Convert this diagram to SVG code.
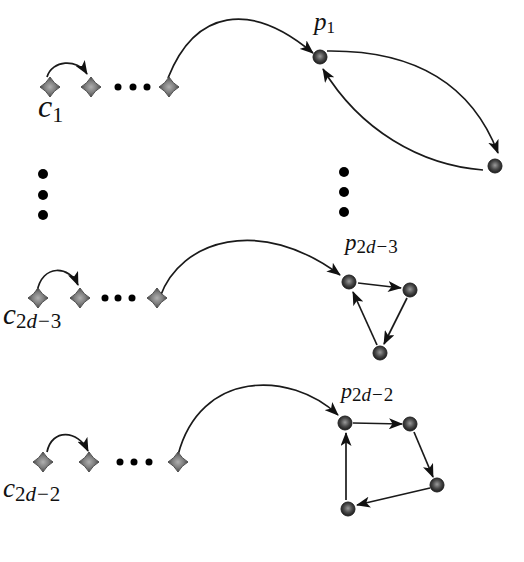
<svg xmlns="http://www.w3.org/2000/svg" width="524" height="562" viewBox="0 0 524 562">
<defs>
<radialGradient id="gd" cx="50%" cy="50%" r="50%">
<stop offset="0" stop-color="#b0b0b0"/>
<stop offset="0.6" stop-color="#7a7a7a"/>
<stop offset="1" stop-color="#404040"/>
</radialGradient>
<radialGradient id="gn" cx="50%" cy="45%" r="55%">
<stop offset="0" stop-color="#9a9a9a"/>
<stop offset="0.55" stop-color="#4a4a4a"/>
<stop offset="1" stop-color="#1a1a1a"/>
</radialGradient>
<path id="dia" d="M0,-10 Q3.6,-3.6 10,0 Q3.6,3.6 0,10 Q-3.6,3.6 -10,0 Q-3.6,-3.6 0,-10 Z"/>
<marker id="ah" viewBox="0 0 14 11" refX="13" refY="5.5" markerWidth="14" markerHeight="11" markerUnits="userSpaceOnUse" orient="auto">
<path d="M0,0 L14,5.5 L0,11 L3.5,5.5 Z" fill="#111"/>
</marker>
</defs>
<style>
.d{fill:url(#gd);stroke:#4a4a4a;stroke-width:1}
.n{fill:url(#gn);stroke:#222;stroke-width:1}
.e{fill:none;stroke:#1a1a1a;stroke-width:1.7;marker-end:url(#ah)}
.dot{fill:#000}
.t{font-family:"Liberation Serif",serif;fill:#111}
.i{font-style:italic}
</style>
<g id="connectors">
<path class="e" d="M47,77 C52,60 77,58 87,74"/>
<path class="e" d="M168,78 C195,10 250,0 313,53"/>
<path class="e" d="M327,51 C410,50 470,80 498,153"/>
<path class="e" d="M483,170 C420,165 360,130 323,69"/>
<path class="e" d="M37,292 C42,263 70,266 78,285"/>
<path class="e" d="M160,297 C180,240 260,215 340,275"/>
<path class="e" d="M358,283 L401,288"/>
<path class="e" d="M407,298 L384,344"/>
<path class="e" d="M377,345 L353,292"/>
<path class="e" d="M47,452 C52,428 78,430 88,451"/>
<path class="e" d="M178,455 C200,370 290,370 338,415"/>
<path class="e" d="M353,423 L402,424"/>
<path class="e" d="M414,432 L433,477"/>
<path class="e" d="M430,488 L357,505"/>
<path class="e" d="M346,500 L346,433"/>
</g>
<g id="chain1">
<use href="#dia" class="d" x="50" y="87"/>
<use href="#dia" class="d" x="91" y="87"/>
<circle class="dot" cx="118" cy="87" r="3.5"/>
<circle class="dot" cx="133" cy="87" r="3.5"/>
<circle class="dot" cx="147" cy="87" r="3.5"/>
<use href="#dia" class="d" x="169" y="87"/>
<text class="t" x="38" y="117"><tspan class="i" font-size="32">c</tspan><tspan font-size="22" dy="5">1</tspan></text>
</g>
<g id="cycle1">
<circle id="p1" class="n" cx="320" cy="57" r="7"/>
<circle class="n" cx="495" cy="166" r="7"/>
<text class="t" x="314" y="30"><tspan class="i" font-size="25">p</tspan><tspan font-size="17" dy="3">1</tspan></text>
</g>
<g id="vdots">
<circle class="dot" cx="43" cy="174" r="5"/>
<circle class="dot" cx="43" cy="195" r="5"/>
<circle class="dot" cx="43" cy="215" r="5"/>
<circle class="dot" cx="344" cy="172" r="5"/>
<circle class="dot" cx="344" cy="192" r="5"/>
<circle class="dot" cx="344" cy="212" r="5"/>
</g>
<g id="chain2">
<use href="#dia" class="d" x="38" y="298"/>
<use href="#dia" class="d" x="80" y="298"/>
<circle class="dot" cx="105" cy="298" r="3.5"/>
<circle class="dot" cx="118" cy="298" r="3.5"/>
<circle class="dot" cx="132" cy="298" r="3.5"/>
<use href="#dia" class="d" x="157" y="298"/>
<text class="t" x="3" y="324"><tspan class="i" font-size="29">c</tspan><tspan font-size="21" dy="4">2</tspan><tspan font-size="21" class="i">d</tspan><tspan font-size="21" dx="1">−</tspan><tspan font-size="21" dx="1">3</tspan></text>
</g>
<g id="cycle2">
<circle class="n" cx="349" cy="282" r="7"/>
<circle class="n" cx="410" cy="290" r="7"/>
<circle class="n" cx="380" cy="353" r="7"/>
<text class="t" x="345" y="250"><tspan class="i" font-size="23">p</tspan><tspan font-size="19" dy="3">2</tspan><tspan font-size="19" class="i">d</tspan><tspan font-size="19" dx="1">−</tspan><tspan font-size="19" dx="1">3</tspan></text>
</g>
<g id="chain3">
<use href="#dia" class="d" x="43" y="462"/>
<use href="#dia" class="d" x="89" y="462"/>
<circle class="dot" cx="120" cy="462" r="3.5"/>
<circle class="dot" cx="134" cy="462" r="3.5"/>
<circle class="dot" cx="149" cy="462" r="3.5"/>
<use href="#dia" class="d" x="178" y="462"/>
<text class="t" x="3" y="497"><tspan class="i" font-size="27">c</tspan><tspan font-size="21" dy="4">2</tspan><tspan font-size="21" class="i">d</tspan><tspan font-size="21" dx="1">−</tspan><tspan font-size="21" dx="1">2</tspan></text>
</g>
<g id="cycle3">
<circle class="n" cx="345" cy="423" r="7"/>
<circle class="n" cx="410" cy="424" r="7"/>
<circle class="n" cx="437" cy="485" r="7"/>
<circle class="n" cx="348" cy="509" r="7"/>
<text class="t" x="341" y="398"><tspan class="i" font-size="22">p</tspan><tspan font-size="19" dy="3">2</tspan><tspan font-size="19" class="i">d</tspan><tspan font-size="19" dx="1">−</tspan><tspan font-size="19" dx="1">2</tspan></text>
</g>
</svg>
